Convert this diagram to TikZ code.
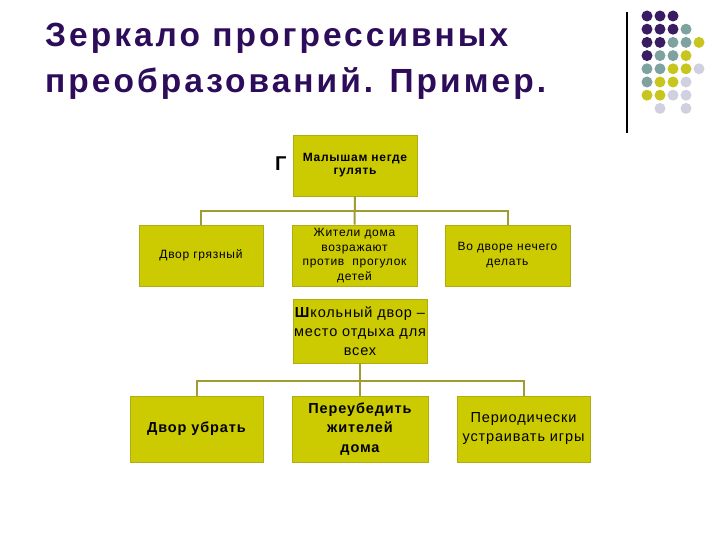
\documentclass[tikz,border=0pt]{standalone}
\usepackage{fontspec}
\setmainfont{Liberation Sans}
\newfontfamily\titlefont[LetterSpace=9]{Liberation Sans}
\newfontfamily\boxfont[LetterSpace=6]{Liberation Sans}
\definecolor{titlecol}{RGB}{45,12,90}
\definecolor{boxfill}{RGB}{204,202,0}
\definecolor{boxedge}{RGB}{175,172,20}
\definecolor{conncol}{RGB}{160,156,50}
\definecolor{dpurple}{RGB}{58,28,98}
\definecolor{dteal}{RGB}{125,162,160}
\definecolor{dyellow}{RGB}{200,198,30}
\definecolor{dlav}{RGB}{208,208,224}
\begin{document}
\begin{tikzpicture}[x=1pt,y=-1pt,
  box/.style={draw=boxedge,line width=0.8pt,fill=boxfill,align=center,inner sep=1pt},
  conn/.style={draw=conncol,line width=2pt},
  ttl/.style={anchor=base west,text=titlecol,font=\titlefont\fontsize{33.5}{46}\selectfont\bfseries,inner sep=0pt},
  dot/.style={circle,inner sep=0pt,minimum size=11pt}]
\useasboundingbox (0,0) rectangle (720,540);
% title
\node[ttl] (title1) at (45,47) {Зеркало прогрессивных};
\node[ttl] (title2) at (45,93) {преобразований. Пример.};
% decoration line
\coordinate (vl1) at (627,12);
\coordinate (vl2) at (627,133);
\draw[line width=1.2pt] (vl1) -- (vl2);
% dots
\foreach \c/\r/\col in {0/0/dpurple,1/0/dpurple,2/0/dpurple,
  0/1/dpurple,1/1/dpurple,2/1/dpurple,3/1/dteal,
  0/2/dpurple,1/2/dpurple,2/2/dteal,3/2/dteal,4/2/dyellow,
  0/3/dpurple,1/3/dteal,2/3/dteal,3/3/dyellow,
  0/4/dteal,1/4/dteal,2/4/dyellow,3/4/dyellow,4/4/dlav,
  0/5/dteal,1/5/dyellow,2/5/dyellow,3/5/dlav,
  0/6/dyellow,1/6/dyellow,2/6/dlav,3/6/dlav,
  1/7/dlav,3/7/dlav}
  \node[dot,fill=\col] (d\c\r) at (647+13*\c,16+13.2*\r) {};
% hidden glyph
\node[font=\fontsize{20}{20}\selectfont\bfseries,anchor=west,inner sep=0pt] (hid) at (275,164) {Г};
% boxes
\node[box,minimum width=124pt,minimum height=61pt,font=\boxfont\fontsize{12}{13}\selectfont\bfseries] (top) at (355,165.5) {Малышам негде\\гулять};
\node[box,minimum width=124pt,minimum height=61pt,font=\boxfont\fontsize{12}{13}\selectfont] (r2a) at (201,255.5) {Двор грязный};
\node[box,minimum width=125pt,minimum height=61pt,font=\boxfont\fontsize{12}{14.5}\selectfont] (r2b) at (354.5,255.5) {Жители дома\\возражают\\против\ \ прогулок\\детей};
\node[box,minimum width=125pt,minimum height=61pt,font=\boxfont\fontsize{12}{15}\selectfont] (r2c) at (507.5,255.5) {Во дворе нечего\\делать};
\node[box,minimum width=134pt,minimum height=64pt,font=\boxfont\fontsize{14.5}{19}\selectfont] (mid) at (360,331) {\textbf{Ш}кольный двор –\\место отдыха для\\всех};
\node[box,minimum width=133pt,minimum height=66pt,font=\boxfont\fontsize{14.5}{18}\selectfont\bfseries] (b1) at (196.5,429) {Двор убрать};
\node[box,minimum width=136pt,minimum height=66pt,font=\boxfont\fontsize{14.5}{19.5}\selectfont\bfseries] (b2) at (360,429) {Переубедить\\жителей\\дома};
\node[box,minimum width=133pt,minimum height=66pt,font=\boxfont\fontsize{14.5}{19}\selectfont] (b3) at (523.5,429) {Периодически\\устраивать игры};
% connectors
\draw[conn] (top.south) -- ++(0,15) -| (r2a.north);
\draw[conn] (top.south) -- ++(0,15) -| (r2c.north);
\draw[conn] (top.south) -- (r2b.north);
\draw[conn] (mid.south) -- ++(0,18) -| (b1.north);
\draw[conn] (mid.south) -- ++(0,18) -| (b3.north);
\draw[conn] (mid.south) -- (b2.north);
\end{tikzpicture}
\end{document}
